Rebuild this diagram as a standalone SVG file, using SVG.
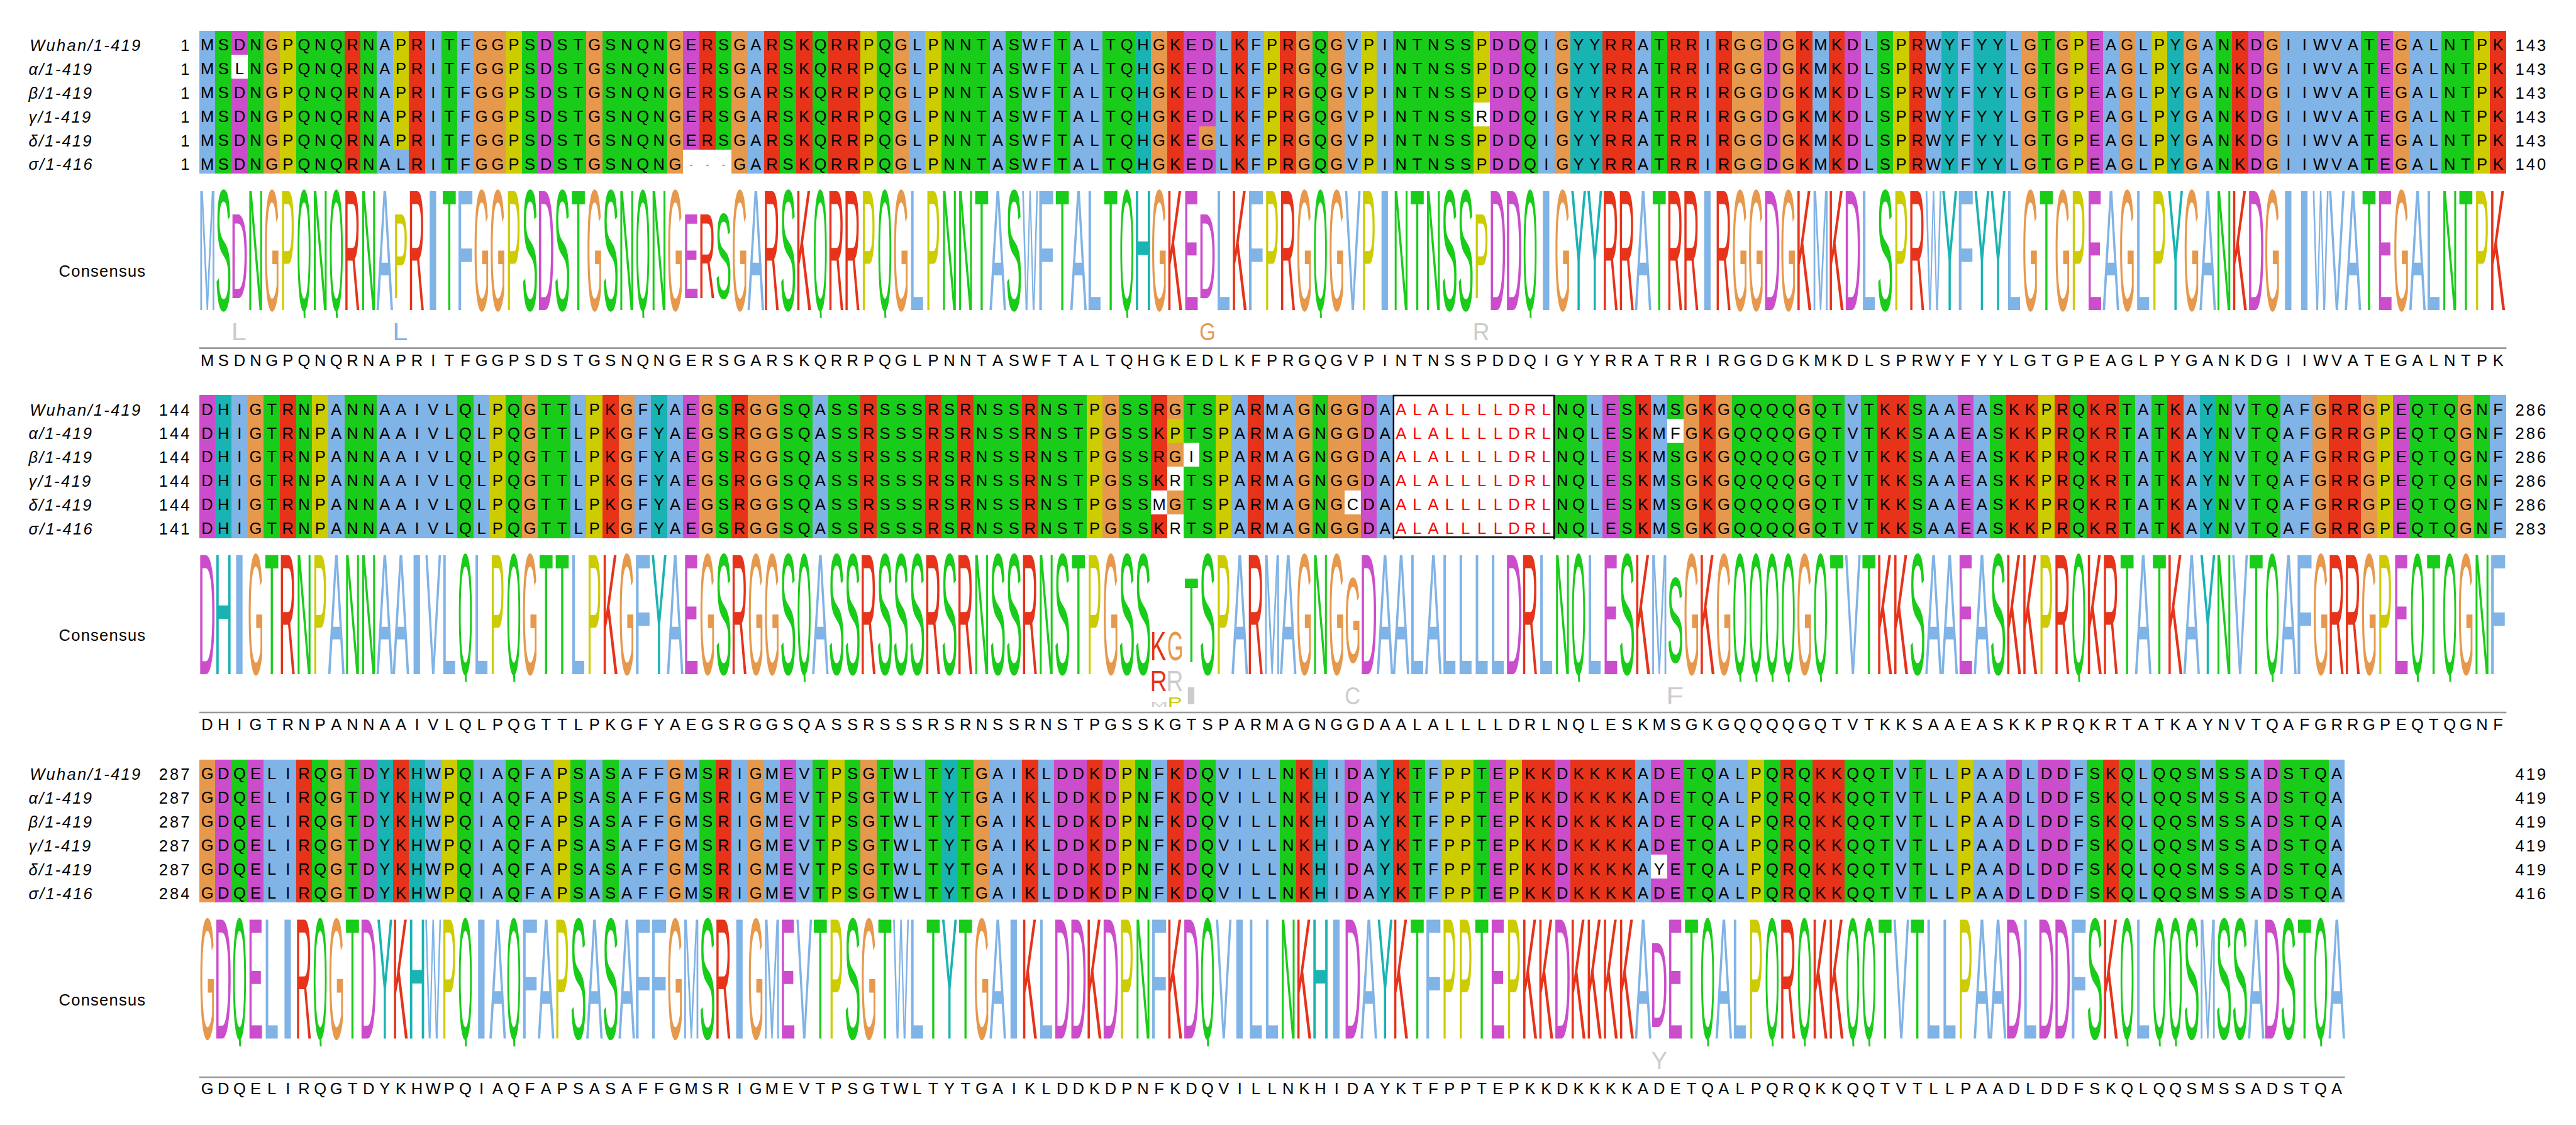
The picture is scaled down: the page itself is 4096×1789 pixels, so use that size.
<svg xmlns="http://www.w3.org/2000/svg" width="4096" height="1789" viewBox="0 0 4096 1789">
<style>
text{font-family:"Liberation Sans",Arial,sans-serif;fill:#000}
.l{font-size:100px}
.s{font-size:.995px;text-anchor:middle}
.d{font-size:.55px}
.la{font-size:27px;font-style:italic;letter-spacing:2.4px}
.nl{font-size:27px;letter-spacing:3.2px;text-anchor:end}
.nr{font-size:27px;letter-spacing:3.2px}
.cn{font-size:27px;letter-spacing:1.3px}
.bg{shape-rendering:crispEdges}
.bg path{fill:none;stroke-width:1}
.rd{fill:#f00}
text.b{fill:#80b3e6}text.r{fill:#e6331a}text.g{fill:#1acc1a}text.m{fill:#cc4dcc}text.o{fill:#e6994d}text.y{fill:#cc0}text.c{fill:#1ab3b3}text.x{fill:#ccc}
.bg .b{stroke:#80b3e6}.bg .r{stroke:#e6331a}.bg .g{stroke:#1acc1a}.bg .m{stroke:#cc4dcc}.bg .o{stroke:#e6994d}.bg .y{stroke:#cc0}.bg .c{stroke:#1ab3b3}.bg .w{stroke:#fff}
.rule{stroke:#999;stroke-width:2.8;fill:none}
.box{stroke:#000;stroke-width:2.6;fill:none}
</style>
<defs>
<clipPath id="qc"><rect x="-60" y="-90" width="120" height="94.5"/></clipPath>
<text id="A" class="l b" x="-33.3" transform="scale(.01547,2.907)">A</text>
<text id="D" class="l m" x="-37.5" transform="scale(.01499,2.907)">D</text>
<text id="E" class="l m" x="-35" transform="scale(.01433,2.907)">E</text>
<text id="F" class="l b" x="-32.5" transform="scale(.01766,2.907)">F</text>
<text id="G" class="l o" x="-38.5" transform="scale(.01285,2.907)">G</text>
<text id="H" class="l c" x="-36" transform="scale(.0158,2.907)">H</text>
<text id="I" class="l b" x="-14.2" transform="scale(.04268,2.907)">I</text>
<text id="K" class="l r" x="-37" transform="scale(.01499,2.907)">K</text>
<text id="L" class="l b" x="-30.5" transform="scale(.01683,2.907)">L</text>
<text id="M" class="l b" x="-41.5" transform="scale(.01301,2.907)">M</text>
<text id="N" class="l g" x="-36" transform="scale(.01423,2.907)">N</text>
<text id="P" class="l y" x="-35" transform="scale(.01365,2.907)">P</text>
<text id="Q" class="l g" x="-39" transform="scale(.01175,2.907)" clip-path="url(#qc)">Q</text>
<text id="R" class="l r" x="-38.5" transform="scale(.0145,2.907)">R</text>
<text id="S" class="l g" x="-33" transform="scale(.01487,2.907)">S</text>
<text id="T" class="l g" x="-30.5" transform="scale(.01423,2.907)">T</text>
<text id="V" class="l b" x="-33" transform="scale(.01474,2.907)">V</text>
<text id="W" class="l b" x="-47" transform="scale(.01042,2.907)">W</text>
<text id="Y" class="l c" x="-33" transform="scale(.01474,2.907)">Y</text>
<text id="gL" class="l x" x="-30.5" transform="scale(.01683,2.907)">L</text>
<text id="gR" class="l x" x="-38.5" transform="scale(.0145,2.907)">R</text>
<text id="gM" class="l x" x="-41.5" transform="scale(.01301,2.907)">M</text>
<text id="gI" class="l x" x="-14.2" transform="scale(.04268,2.907)">I</text>
<text id="gC" class="l x" x="-36.5" transform="scale(.01346,2.907)">C</text>
<text id="gF" class="l x" x="-32.5" transform="scale(.01766,2.907)">F</text>
<text id="gY" class="l x" x="-33" transform="scale(.01474,2.907)">Y</text>
</defs>
<rect width="4096" height="1789" fill="#fff"/>
<g transform="scale(.94552)">

<g id="block1">
<g class="bg" transform="translate(335,51.7) scale(27.13,40.1)">
<path class="b" d="M.5 0v6M11.5 0v6M14.5 0v6M16.5 0v6M34.5 0v6M44.5 0v6M49.5 0v6M51.5 0v6M52.5 0v6M54.5 0v6M55.5 0v6M63.5 0v6M65.5 0v6M71.5 0v6M73.5 0v6M83.5 0v6M89.5 0v6M93.5 0v6M100.5 0v6M103.5 0v6M107.5 0v6M109.5 0v6M112.5 0v6M118.5 0v6M120.5 0v6M124.5 0v6M129.5 0v6M130.5 0v6M131.5 0v6M132.5 0v6M133.5 0v6M137.5 0v6M138.5 0v6M12.5 5v1"/>
<path class="r" d="M9.5 0v6M13.5 0v6M31.5 0v6M35.5 0v6M37.5 0v6M39.5 0v6M40.5 0v6M60.5 0v6M64.5 0v6M67.5 0v6M87.5 0v6M88.5 0v6M91.5 0v6M92.5 0v6M94.5 0v6M99.5 0v6M101.5 0v6M106.5 0v6M126.5 0v6M142.5 0v6"/>
<path class="g" d="M1.5 0v6M3.5 0v6M6.5 0v6M7.5 0v6M8.5 0v6M10.5 0v6M15.5 0v6M20.5 0v6M22.5 0v6M23.5 0v6M25.5 0v6M26.5 0v6M27.5 0v6M28.5 0v6M32.5 0v6M36.5 0v6M38.5 0v6M42.5 0v6M46.5 0v6M47.5 0v6M48.5 0v6M50.5 0v6M53.5 0v6M56.5 0v6M57.5 0v6M69.5 0v6M74.5 0v6M75.5 0v6M76.5 0v6M77.5 0v6M78.5 0v6M82.5 0v6M90.5 0v6M104.5 0v6M114.5 0v6M125.5 0v6M134.5 0v6M139.5 0v6M140.5 0v6"/>
<path class="m" d="M2.5 0v6M21.5 0v6M30.5 0v6M61.5 0v6M62.5 0v6M80.5 0v6M81.5 0v6M97.5 0v6M102.5 0v6M117.5 0v6M127.5 0v6M135.5 0v6"/>
<path class="o" d="M4.5 0v6M17.5 0v6M18.5 0v6M24.5 0v6M29.5 0v6M33.5 0v6M43.5 0v6M59.5 0v6M68.5 0v6M70.5 0v6M84.5 0v6M95.5 0v6M96.5 0v6M98.5 0v6M113.5 0v6M115.5 0v6M119.5 0v6M123.5 0v6M128.5 0v6M136.5 0v6M62.5 4v1"/>
<path class="y" d="M5.5 0v6M12.5 0v5M19.5 0v6M41.5 0v6M45.5 0v6M66.5 0v6M72.5 0v6M79.5 0v6M105.5 0v6M116.5 0v6M121.5 0v6M141.5 0v6"/>
<path class="c" d="M58.5 0v6M85.5 0v6M86.5 0v6M108.5 0v6M110.5 0v6M111.5 0v6M122.5 0v6"/>
<path class="w" d="M2.5 1v1M30.5 5v1M31.5 5v1M32.5 5v1M79.5 3v1"/>
</g>
<g transform="translate(348.57,85) scale(27.13)">
<text class="s" x="0 1 2 3 4 5 6 7 8 9 10 11 12 13 14 15 16 17 18 19 20 21 22 23 24 25 26 27 28 29 30 31 32 33 34 35 36 37 38 39 40 41 42 43 44 45 46 47 48 49 50 51 52 53 54 55 56 57 58 59 60 61 62 63 64 65 66 67 68 69 70 71 72 73 74 75 76 77 78 79 80 81 82 83 84 85 86 87 88 89 90 91 92 93 94 95 96 97 98 99 100 101 102 103 104 105 106 107 108 109 110 111 112 113 114 115 116 117 118 119 120 121 122 123 124 125 126 127 128 129 130 131 132 133 134 135 136 137 138 139 140 141 142" y="0">MSDNGPQNQRNAPRITFGGPSDSTGSNQNGERSGARSKQRRPQGLPNNTASWFTALTQHGKEDLKFPRGQGVPINTNSSPDDQIGYYRRATRRIRGGDGKMKDLSPRWYFYYLGTGPEAGLPYGANKDGIIWVATEGALNTPK</text>
<text class="s" x="0 1 2 3 4 5 6 7 8 9 10 11 12 13 14 15 16 17 18 19 20 21 22 23 24 25 26 27 28 29 30 31 32 33 34 35 36 37 38 39 40 41 42 43 44 45 46 47 48 49 50 51 52 53 54 55 56 57 58 59 60 61 62 63 64 65 66 67 68 69 70 71 72 73 74 75 76 77 78 79 80 81 82 83 84 85 86 87 88 89 90 91 92 93 94 95 96 97 98 99 100 101 102 103 104 105 106 107 108 109 110 111 112 113 114 115 116 117 118 119 120 121 122 123 124 125 126 127 128 129 130 131 132 133 134 135 136 137 138 139 140 141 142" y="1.478">MSLNGPQNQRNAPRITFGGPSDSTGSNQNGERSGARSKQRRPQGLPNNTASWFTALTQHGKEDLKFPRGQGVPINTNSSPDDQIGYYRRATRRIRGGDGKMKDLSPRWYFYYLGTGPEAGLPYGANKDGIIWVATEGALNTPK</text>
<text class="s" x="0 1 2 3 4 5 6 7 8 9 10 11 12 13 14 15 16 17 18 19 20 21 22 23 24 25 26 27 28 29 30 31 32 33 34 35 36 37 38 39 40 41 42 43 44 45 46 47 48 49 50 51 52 53 54 55 56 57 58 59 60 61 62 63 64 65 66 67 68 69 70 71 72 73 74 75 76 77 78 79 80 81 82 83 84 85 86 87 88 89 90 91 92 93 94 95 96 97 98 99 100 101 102 103 104 105 106 107 108 109 110 111 112 113 114 115 116 117 118 119 120 121 122 123 124 125 126 127 128 129 130 131 132 133 134 135 136 137 138 139 140 141 142" y="2.956">MSDNGPQNQRNAPRITFGGPSDSTGSNQNGERSGARSKQRRPQGLPNNTASWFTALTQHGKEDLKFPRGQGVPINTNSSPDDQIGYYRRATRRIRGGDGKMKDLSPRWYFYYLGTGPEAGLPYGANKDGIIWVATEGALNTPK</text>
<text class="s" x="0 1 2 3 4 5 6 7 8 9 10 11 12 13 14 15 16 17 18 19 20 21 22 23 24 25 26 27 28 29 30 31 32 33 34 35 36 37 38 39 40 41 42 43 44 45 46 47 48 49 50 51 52 53 54 55 56 57 58 59 60 61 62 63 64 65 66 67 68 69 70 71 72 73 74 75 76 77 78 79 80 81 82 83 84 85 86 87 88 89 90 91 92 93 94 95 96 97 98 99 100 101 102 103 104 105 106 107 108 109 110 111 112 113 114 115 116 117 118 119 120 121 122 123 124 125 126 127 128 129 130 131 132 133 134 135 136 137 138 139 140 141 142" y="4.434">MSDNGPQNQRNAPRITFGGPSDSTGSNQNGERSGARSKQRRPQGLPNNTASWFTALTQHGKEDLKFPRGQGVPINTNSSRDDQIGYYRRATRRIRGGDGKMKDLSPRWYFYYLGTGPEAGLPYGANKDGIIWVATEGALNTPK</text>
<text class="s" x="0 1 2 3 4 5 6 7 8 9 10 11 12 13 14 15 16 17 18 19 20 21 22 23 24 25 26 27 28 29 30 31 32 33 34 35 36 37 38 39 40 41 42 43 44 45 46 47 48 49 50 51 52 53 54 55 56 57 58 59 60 61 62 63 64 65 66 67 68 69 70 71 72 73 74 75 76 77 78 79 80 81 82 83 84 85 86 87 88 89 90 91 92 93 94 95 96 97 98 99 100 101 102 103 104 105 106 107 108 109 110 111 112 113 114 115 116 117 118 119 120 121 122 123 124 125 126 127 128 129 130 131 132 133 134 135 136 137 138 139 140 141 142" y="5.912">MSDNGPQNQRNAPRITFGGPSDSTGSNQNGERSGARSKQRRPQGLPNNTASWFTALTQHGKEGLKFPRGQGVPINTNSSPDDQIGYYRRATRRIRGGDGKMKDLSPRWYFYYLGTGPEAGLPYGANKDGIIWVATEGALNTPK</text>
<text class="s" x="0 1 2 3 4 5 6 7 8 9 10 11 12 13 14 15 16 17 18 19 20 21 22 23 24 25 26 27 28 29 30 31 32 33 34 35 36 37 38 39 40 41 42 43 44 45 46 47 48 49 50 51 52 53 54 55 56 57 58 59 60 61 62 63 64 65 66 67 68 69 70 71 72 73 74 75 76 77 78 79 80 81 82 83 84 85 86 87 88 89 90 91 92 93 94 95 96 97 98 99 100 101 102 103 104 105 106 107 108 109 110 111 112 113 114 115 116 117 118 119 120 121 122 123 124 125 126 127 128 129 130 131 132 133 134 135 136 137 138 139 140 141 142" y="7.39">MSDNGPQNQRNALRITFGGPSDSTGSNQNG<tspan class="d" y="7.28">---</tspan><tspan y="7.39">GARSKQRRPQGLPNNTASWFTALTQHGKEDLKFPRGQGVPINTNSSPDDQIGYYRRATRRIRGGDGKMKDLSPRWYFYYLGTGPEAGLPYGANKDGIIWVATEGALNTPK</tspan></text>
<text class="s" x="0 1 2 3 4 5 6 7 8 9 10 11 12 13 14 15 16 17 18 19 20 21 22 23 24 25 26 27 28 29 30 31 32 33 34 35 36 37 38 39 40 41 42 43 44 45 46 47 48 49 50 51 52 53 54 55 56 57 58 59 60 61 62 63 64 65 66 67 68 69 70 71 72 73 74 75 76 77 78 79 80 81 82 83 84 85 86 87 88 89 90 91 92 93 94 95 96 97 98 99 100 101 102 103 104 105 106 107 108 109 110 111 112 113 114 115 116 117 118 119 120 121 122 123 124 125 126 127 128 129 130 131 132 133 134 135 136 137 138 139 140 141 142" y="19.54">MSDNGPQNQRNAPRITFGGPSDSTGSNQNGERSGARSKQRRPQGLPNNTASWFTALTQHGKEDLKFPRGQGVPINTNSSPDDQIGYYRRATRRIRGGDGKMKDLSPRWYFYYLGTGPEAGLPYGANKDGIIWVATEGALNTPK</text>
</g>
<g transform="translate(348.57,521.5) scale(27.13,1)">
<use href="#M" x="0"/><use href="#S" x="1"/><use href="#D" transform="translate(2,-20) scale(1,.7)"/><use href="#gL" transform="translate(2,50.5) scale(1,.14)"/><use href="#N" x="3"/><use href="#G" x="4"/><use href="#P" x="5"/><use href="#Q" x="6"/><use href="#N" x="7"/><use href="#Q" x="8"/><use href="#R" x="9"/><use href="#N" x="10"/><use href="#A" x="11"/><use href="#P" transform="translate(12,-20) scale(1,.7)"/><use href="#L" transform="translate(12,50.5) scale(1,.14)"/><use href="#R" x="13"/><use href="#I" x="14"/><use href="#T" x="15"/><use href="#F" x="16"/><use href="#G" x="17"/><use href="#G" x="18"/><use href="#P" x="19"/><use href="#S" x="20"/><use href="#D" x="21"/><use href="#S" x="22"/><use href="#T" x="23"/><use href="#G" x="24"/><use href="#S" x="25"/><use href="#N" x="26"/><use href="#Q" x="27"/><use href="#N" x="28"/><use href="#G" x="29"/><use href="#E" transform="translate(30,-20) scale(1,.7)"/><use href="#R" transform="translate(31,-20) scale(1,.7)"/><use href="#S" transform="translate(32,-20) scale(1,.7)"/><use href="#G" x="33"/><use href="#A" x="34"/><use href="#R" x="35"/><use href="#S" x="36"/><use href="#K" x="37"/><use href="#Q" x="38"/><use href="#R" x="39"/><use href="#R" x="40"/><use href="#P" x="41"/><use href="#Q" x="42"/><use href="#G" x="43"/><use href="#L" x="44"/><use href="#P" x="45"/><use href="#N" x="46"/><use href="#N" x="47"/><use href="#T" x="48"/><use href="#A" x="49"/><use href="#S" x="50"/><use href="#W" x="51"/><use href="#F" x="52"/><use href="#T" x="53"/><use href="#A" x="54"/><use href="#L" x="55"/><use href="#T" x="56"/><use href="#Q" x="57"/><use href="#H" x="58"/><use href="#G" x="59"/><use href="#K" x="60"/><use href="#E" x="61"/><use href="#D" transform="translate(62,-20) scale(1,.7)"/><use href="#G" transform="translate(62,50.5) scale(1,.14)"/><use href="#L" x="63"/><use href="#K" x="64"/><use href="#F" x="65"/><use href="#P" x="66"/><use href="#R" x="67"/><use href="#G" x="68"/><use href="#Q" x="69"/><use href="#G" x="70"/><use href="#V" x="71"/><use href="#P" x="72"/><use href="#I" x="73"/><use href="#N" x="74"/><use href="#T" x="75"/><use href="#N" x="76"/><use href="#S" x="77"/><use href="#S" x="78"/><use href="#P" transform="translate(79,-20) scale(1,.7)"/><use href="#gR" transform="translate(79,50.5) scale(1,.14)"/><use href="#D" x="80"/><use href="#D" x="81"/><use href="#Q" x="82"/><use href="#I" x="83"/><use href="#G" x="84"/><use href="#Y" x="85"/><use href="#Y" x="86"/><use href="#R" x="87"/><use href="#R" x="88"/><use href="#A" x="89"/><use href="#T" x="90"/><use href="#R" x="91"/><use href="#R" x="92"/><use href="#I" x="93"/><use href="#R" x="94"/><use href="#G" x="95"/><use href="#G" x="96"/><use href="#D" x="97"/><use href="#G" x="98"/><use href="#K" x="99"/><use href="#M" x="100"/><use href="#K" x="101"/><use href="#D" x="102"/><use href="#L" x="103"/><use href="#S" x="104"/><use href="#P" x="105"/><use href="#R" x="106"/><use href="#W" x="107"/><use href="#Y" x="108"/><use href="#F" x="109"/><use href="#Y" x="110"/><use href="#Y" x="111"/><use href="#L" x="112"/><use href="#G" x="113"/><use href="#T" x="114"/><use href="#G" x="115"/><use href="#P" x="116"/><use href="#E" x="117"/><use href="#A" x="118"/><use href="#G" x="119"/><use href="#L" x="120"/><use href="#P" x="121"/><use href="#Y" x="122"/><use href="#G" x="123"/><use href="#A" x="124"/><use href="#N" x="125"/><use href="#K" x="126"/><use href="#D" x="127"/><use href="#G" x="128"/><use href="#I" x="129"/><use href="#I" x="130"/><use href="#W" x="131"/><use href="#V" x="132"/><use href="#A" x="133"/><use href="#T" x="134"/><use href="#E" x="135"/><use href="#G" x="136"/><use href="#A" x="137"/><use href="#L" x="138"/><use href="#N" x="139"/><use href="#T" x="140"/><use href="#P" x="141"/><use href="#K" x="142"/>
</g>
<path class="rule" d="M335 585.5H4215"/>
<text class="la" x="50" y="86">Wuhan/1-419</text><text class="la" x="48" y="126">α/1-419</text><text class="la" x="48" y="166">β/1-419</text><text class="la" x="48" y="206">γ/1-419</text><text class="la" x="48" y="246">δ/1-419</text><text class="la" x="48" y="286">σ/1-416</text>
<text class="nl" x="322" y="86">1</text><text class="nl" x="322" y="126">1</text><text class="nl" x="322" y="166">1</text><text class="nl" x="322" y="206">1</text><text class="nl" x="322" y="246">1</text><text class="nl" x="322" y="286">1</text>
<text class="nr" x="4230" y="86">143</text><text class="nr" x="4230" y="126">143</text><text class="nr" x="4230" y="166">143</text><text class="nr" x="4230" y="206">143</text><text class="nr" x="4230" y="246">143</text><text class="nr" x="4230" y="286">140</text>
<text class="cn" x="99" y="465.5">Consensus</text>
</g>

<g id="block2">
<g class="bg" transform="translate(335,664.3) scale(27.13,40.1)">
<path class="b" d="M2.5 0v6M8.5 0v6M11.5 0v6M12.5 0v6M13.5 0v6M14.5 0v6M15.5 0v6M17.5 0v6M23.5 0v6M27.5 0v6M29.5 0v6M38.5 0v6M64.5 0v6M66.5 0v6M67.5 0v6M73.5 0v6M86.5 0v6M90.5 0v6M102.5 0v6M107.5 0v6M108.5 0v6M110.5 0v6M120.5 0v6M123.5 0v6M126.5 0v6M129.5 0v6M130.5 0v6M142.5 0v6"/>
<path class="r" d="M5.5 0v6M25.5 0v6M33.5 0v6M41.5 0v6M45.5 0v6M47.5 0v6M51.5 0v6M59.5 0v6M65.5 0v6M89.5 0v6M93.5 0v6M104.5 0v6M105.5 0v6M112.5 0v6M113.5 0v6M115.5 0v6M117.5 0v6M118.5 0v6M122.5 0v6M132.5 0v6M133.5 0v6"/>
<path class="g" d="M4.5 0v6M6.5 0v6M9.5 0v6M10.5 0v6M16.5 0v6M19.5 0v6M21.5 0v6M22.5 0v6M32.5 0v6M36.5 0v6M37.5 0v6M39.5 0v6M40.5 0v6M42.5 0v6M43.5 0v6M44.5 0v6M46.5 0v6M48.5 0v6M49.5 0v6M50.5 0v6M52.5 0v6M53.5 0v6M54.5 0v6M57.5 0v6M58.5 0v6M61.5 0v6M62.5 0v6M69.5 0v6M84.5 0v6M85.5 0v6M88.5 0v6M91.5 0v6M95.5 0v6M96.5 0v6M97.5 0v6M98.5 0v6M100.5 0v6M101.5 0v6M103.5 0v6M106.5 0v6M111.5 0v6M116.5 0v6M119.5 0v6M121.5 0v6M125.5 0v6M127.5 0v6M128.5 0v6M137.5 0v6M138.5 0v6M139.5 0v6M141.5 0v6"/>
<path class="m" d="M.5 0v6M30.5 0v6M72.5 0v6M87.5 0v6M109.5 0v6M136.5 0v6"/>
<path class="o" d="M3.5 0v6M20.5 0v6M26.5 0v6M31.5 0v6M34.5 0v6M35.5 0v6M56.5 0v6M60.5 0v6M68.5 0v6M70.5 0v6M71.5 0v6M92.5 0v6M94.5 0v6M99.5 0v6M131.5 0v6M134.5 0v6M140.5 0v6"/>
<path class="y" d="M7.5 0v6M18.5 0v6M24.5 0v6M55.5 0v6M63.5 0v6M114.5 0v6M135.5 0v6M60.5 1v1"/>
<path class="c" d="M1.5 0v6M28.5 0v6M124.5 0v6"/>
<path class="w" d="M59.5 4v1M60.5 3v1M60.5 5v1M61.5 2v1M71.5 4v1M91.5 1v1"/>
</g>
<rect x="2343" y="664.3" width="270.6" height="240.6" fill="#fff"/>
<path class="box" d="M2343.5 664V907M2613.5 664V907M2342.2 665.2H2614.8M2342.2 903.5H2614.8"/>
<g transform="translate(348.57,697.6) scale(27.13)">
<text class="s" x="0 1 2 3 4 5 6 7 8 9 10 11 12 13 14 15 16 17 18 19 20 21 22 23 24 25 26 27 28 29 30 31 32 33 34 35 36 37 38 39 40 41 42 43 44 45 46 47 48 49 50 51 52 53 54 55 56 57 58 59 60 61 62 63 64 65 66 67 68 69 70 71 72 73 74 75 76 77 78 79 80 81 82 83 84 85 86 87 88 89 90 91 92 93 94 95 96 97 98 99 100 101 102 103 104 105 106 107 108 109 110 111 112 113 114 115 116 117 118 119 120 121 122 123 124 125 126 127 128 129 130 131 132 133 134 135 136 137 138 139 140 141 142" y="0">DHIGTRNPANNAAIVLQLPQGTTLPKGFYAEGSRGGSQASSRSSSRSRNSSRNSTPGSSRGTSPARMAGNGGDA<tspan class="rd">ALALLLLDRL</tspan>NQLESKMSGKGQQQQGQTVTKKSAAEASKKPRQKRTATKAYNVTQAFGRRGPEQTQGNF</text>
<text class="s" x="0 1 2 3 4 5 6 7 8 9 10 11 12 13 14 15 16 17 18 19 20 21 22 23 24 25 26 27 28 29 30 31 32 33 34 35 36 37 38 39 40 41 42 43 44 45 46 47 48 49 50 51 52 53 54 55 56 57 58 59 60 61 62 63 64 65 66 67 68 69 70 71 72 73 74 75 76 77 78 79 80 81 82 83 84 85 86 87 88 89 90 91 92 93 94 95 96 97 98 99 100 101 102 103 104 105 106 107 108 109 110 111 112 113 114 115 116 117 118 119 120 121 122 123 124 125 126 127 128 129 130 131 132 133 134 135 136 137 138 139 140 141 142" y="1.478">DHIGTRNPANNAAIVLQLPQGTTLPKGFYAEGSRGGSQASSRSSSRSRNSSRNSTPGSSKPTSPARMAGNGGDA<tspan class="rd">ALALLLLDRL</tspan>NQLESKMFGKGQQQQGQTVTKKSAAEASKKPRQKRTATKAYNVTQAFGRRGPEQTQGNF</text>
<text class="s" x="0 1 2 3 4 5 6 7 8 9 10 11 12 13 14 15 16 17 18 19 20 21 22 23 24 25 26 27 28 29 30 31 32 33 34 35 36 37 38 39 40 41 42 43 44 45 46 47 48 49 50 51 52 53 54 55 56 57 58 59 60 61 62 63 64 65 66 67 68 69 70 71 72 73 74 75 76 77 78 79 80 81 82 83 84 85 86 87 88 89 90 91 92 93 94 95 96 97 98 99 100 101 102 103 104 105 106 107 108 109 110 111 112 113 114 115 116 117 118 119 120 121 122 123 124 125 126 127 128 129 130 131 132 133 134 135 136 137 138 139 140 141 142" y="2.956">DHIGTRNPANNAAIVLQLPQGTTLPKGFYAEGSRGGSQASSRSSSRSRNSSRNSTPGSSRGISPARMAGNGGDA<tspan class="rd">ALALLLLDRL</tspan>NQLESKMSGKGQQQQGQTVTKKSAAEASKKPRQKRTATKAYNVTQAFGRRGPEQTQGNF</text>
<text class="s" x="0 1 2 3 4 5 6 7 8 9 10 11 12 13 14 15 16 17 18 19 20 21 22 23 24 25 26 27 28 29 30 31 32 33 34 35 36 37 38 39 40 41 42 43 44 45 46 47 48 49 50 51 52 53 54 55 56 57 58 59 60 61 62 63 64 65 66 67 68 69 70 71 72 73 74 75 76 77 78 79 80 81 82 83 84 85 86 87 88 89 90 91 92 93 94 95 96 97 98 99 100 101 102 103 104 105 106 107 108 109 110 111 112 113 114 115 116 117 118 119 120 121 122 123 124 125 126 127 128 129 130 131 132 133 134 135 136 137 138 139 140 141 142" y="4.434">DHIGTRNPANNAAIVLQLPQGTTLPKGFYAEGSRGGSQASSRSSSRSRNSSRNSTPGSSKRTSPARMAGNGGDA<tspan class="rd">ALALLLLDRL</tspan>NQLESKMSGKGQQQQGQTVTKKSAAEASKKPRQKRTATKAYNVTQAFGRRGPEQTQGNF</text>
<text class="s" x="0 1 2 3 4 5 6 7 8 9 10 11 12 13 14 15 16 17 18 19 20 21 22 23 24 25 26 27 28 29 30 31 32 33 34 35 36 37 38 39 40 41 42 43 44 45 46 47 48 49 50 51 52 53 54 55 56 57 58 59 60 61 62 63 64 65 66 67 68 69 70 71 72 73 74 75 76 77 78 79 80 81 82 83 84 85 86 87 88 89 90 91 92 93 94 95 96 97 98 99 100 101 102 103 104 105 106 107 108 109 110 111 112 113 114 115 116 117 118 119 120 121 122 123 124 125 126 127 128 129 130 131 132 133 134 135 136 137 138 139 140 141 142" y="5.912">DHIGTRNPANNAAIVLQLPQGTTLPKGFYAEGSRGGSQASSRSSSRSRNSSRNSTPGSSMGTSPARMAGNGCDA<tspan class="rd">ALALLLLDRL</tspan>NQLESKMSGKGQQQQGQTVTKKSAAEASKKPRQKRTATKAYNVTQAFGRRGPEQTQGNF</text>
<text class="s" x="0 1 2 3 4 5 6 7 8 9 10 11 12 13 14 15 16 17 18 19 20 21 22 23 24 25 26 27 28 29 30 31 32 33 34 35 36 37 38 39 40 41 42 43 44 45 46 47 48 49 50 51 52 53 54 55 56 57 58 59 60 61 62 63 64 65 66 67 68 69 70 71 72 73 74 75 76 77 78 79 80 81 82 83 84 85 86 87 88 89 90 91 92 93 94 95 96 97 98 99 100 101 102 103 104 105 106 107 108 109 110 111 112 113 114 115 116 117 118 119 120 121 122 123 124 125 126 127 128 129 130 131 132 133 134 135 136 137 138 139 140 141 142" y="7.39">DHIGTRNPANNAAIVLQLPQGTTLPKGFYAEGSRGGSQASSRSSSRSRNSSRNSTPGSSKRTSPARMAGNGGDA<tspan class="rd">ALALLLLDRL</tspan>NQLESKMSGKGQQQQGQTVTKKSAAEASKKPRQKRTATKAYNVTQAFGRRGPEQTQGNF</text>
<text class="s" x="0 1 2 3 4 5 6 7 8 9 10 11 12 13 14 15 16 17 18 19 20 21 22 23 24 25 26 27 28 29 30 31 32 33 34 35 36 37 38 39 40 41 42 43 44 45 46 47 48 49 50 51 52 53 54 55 56 57 58 59 60 61 62 63 64 65 66 67 68 69 70 71 72 73 74 75 76 77 78 79 80 81 82 83 84 85 86 87 88 89 90 91 92 93 94 95 96 97 98 99 100 101 102 103 104 105 106 107 108 109 110 111 112 113 114 115 116 117 118 119 120 121 122 123 124 125 126 127 128 129 130 131 132 133 134 135 136 137 138 139 140 141 142" y="19.54">DHIGTRNPANNAAIVLQLPQGTTLPKGFYAEGSRGGSQASSRSSSRSRNSSRNSTPGSSKGTSPARMAGNGGDAALALLLLDRLNQLESKMSGKGQQQQGQTVTKKSAAEASKKPRQKRTATKAYNVTQAFGRRGPEQTQGNF</text>
</g>
<g transform="translate(348.57,1133.7) scale(27.13,1)">
<use href="#D" x="0"/><use href="#H" x="1"/><use href="#I" x="2"/><use href="#G" x="3"/><use href="#T" x="4"/><use href="#R" x="5"/><use href="#N" x="6"/><use href="#P" x="7"/><use href="#A" x="8"/><use href="#N" x="9"/><use href="#N" x="10"/><use href="#A" x="11"/><use href="#A" x="12"/><use href="#I" x="13"/><use href="#V" x="14"/><use href="#L" x="15"/><use href="#Q" x="16"/><use href="#L" x="17"/><use href="#P" x="18"/><use href="#Q" x="19"/><use href="#G" x="20"/><use href="#T" x="21"/><use href="#T" x="22"/><use href="#L" x="23"/><use href="#P" x="24"/><use href="#K" x="25"/><use href="#G" x="26"/><use href="#F" x="27"/><use href="#Y" x="28"/><use href="#A" x="29"/><use href="#E" x="30"/><use href="#G" x="31"/><use href="#S" x="32"/><use href="#R" x="33"/><use href="#G" x="34"/><use href="#G" x="35"/><use href="#S" x="36"/><use href="#Q" x="37"/><use href="#A" x="38"/><use href="#S" x="39"/><use href="#S" x="40"/><use href="#R" x="41"/><use href="#S" x="42"/><use href="#S" x="43"/><use href="#S" x="44"/><use href="#R" x="45"/><use href="#S" x="46"/><use href="#R" x="47"/><use href="#N" x="48"/><use href="#S" x="49"/><use href="#S" x="50"/><use href="#R" x="51"/><use href="#N" x="52"/><use href="#S" x="53"/><use href="#T" x="54"/><use href="#P" x="55"/><use href="#G" x="56"/><use href="#S" x="57"/><use href="#S" x="58"/><use href="#K" transform="translate(59,-23) scale(1,.235)"/><use href="#R" transform="translate(59,28.4) scale(1,.167)"/><use href="#gM" transform="translate(59,55) scale(1,.037)"/><use href="#G" transform="translate(60,-23) scale(1,.235)"/><use href="#gR" transform="translate(60,28.4) scale(1,.167)"/><use href="#P" transform="translate(60,55) scale(1,.083)"/><use href="#T" transform="translate(61,-20) scale(1,.7)"/><use href="#gI" transform="translate(61,51) scale(1,.14)"/><use href="#S" x="62"/><use href="#P" x="63"/><use href="#A" x="64"/><use href="#R" x="65"/><use href="#M" x="66"/><use href="#A" x="67"/><use href="#G" x="68"/><use href="#N" x="69"/><use href="#G" x="70"/><use href="#G" transform="translate(71,-20) scale(1,.7)"/><use href="#gC" transform="translate(71,51) scale(1,.14)"/><use href="#D" x="72"/><use href="#A" x="73"/><use href="#A" x="74"/><use href="#L" x="75"/><use href="#A" x="76"/><use href="#L" x="77"/><use href="#L" x="78"/><use href="#L" x="79"/><use href="#L" x="80"/><use href="#D" x="81"/><use href="#R" x="82"/><use href="#L" x="83"/><use href="#N" x="84"/><use href="#Q" x="85"/><use href="#L" x="86"/><use href="#E" x="87"/><use href="#S" x="88"/><use href="#K" x="89"/><use href="#M" x="90"/><use href="#S" transform="translate(91,-20) scale(1,.7)"/><use href="#gF" transform="translate(91,51) scale(1,.14)"/><use href="#G" x="92"/><use href="#K" x="93"/><use href="#G" x="94"/><use href="#Q" x="95"/><use href="#Q" x="96"/><use href="#Q" x="97"/><use href="#Q" x="98"/><use href="#G" x="99"/><use href="#Q" x="100"/><use href="#T" x="101"/><use href="#V" x="102"/><use href="#T" x="103"/><use href="#K" x="104"/><use href="#K" x="105"/><use href="#S" x="106"/><use href="#A" x="107"/><use href="#A" x="108"/><use href="#E" x="109"/><use href="#A" x="110"/><use href="#S" x="111"/><use href="#K" x="112"/><use href="#K" x="113"/><use href="#P" x="114"/><use href="#R" x="115"/><use href="#Q" x="116"/><use href="#K" x="117"/><use href="#R" x="118"/><use href="#T" x="119"/><use href="#A" x="120"/><use href="#T" x="121"/><use href="#K" x="122"/><use href="#A" x="123"/><use href="#Y" x="124"/><use href="#N" x="125"/><use href="#V" x="126"/><use href="#T" x="127"/><use href="#Q" x="128"/><use href="#A" x="129"/><use href="#F" x="130"/><use href="#G" x="131"/><use href="#R" x="132"/><use href="#R" x="133"/><use href="#G" x="134"/><use href="#P" x="135"/><use href="#E" x="136"/><use href="#Q" x="137"/><use href="#T" x="138"/><use href="#Q" x="139"/><use href="#G" x="140"/><use href="#N" x="141"/><use href="#F" x="142"/>
</g>
<path class="rule" d="M335 1198.3H4215"/>
<text class="la" x="50" y="698.6">Wuhan/1-419</text><text class="la" x="48" y="738.7">α/1-419</text><text class="la" x="48" y="778.8">β/1-419</text><text class="la" x="48" y="818.9">γ/1-419</text><text class="la" x="48" y="859">δ/1-419</text><text class="la" x="48" y="899.1">σ/1-416</text>
<text class="nl" x="322" y="698.6">144</text><text class="nl" x="322" y="738.7">144</text><text class="nl" x="322" y="778.8">144</text><text class="nl" x="322" y="818.9">144</text><text class="nl" x="322" y="859">144</text><text class="nl" x="322" y="899.1">141</text>
<text class="nr" x="4230" y="698.6">286</text><text class="nr" x="4230" y="738.7">286</text><text class="nr" x="4230" y="778.8">286</text><text class="nr" x="4230" y="818.9">286</text><text class="nr" x="4230" y="859">286</text><text class="nr" x="4230" y="899.1">283</text>
<text class="cn" x="99" y="1078">Consensus</text>
</g>

<g id="block3">
<g class="bg" transform="translate(335,1277.3) scale(27.13,40.1)">
<path class="b" d="M4.5 0v6M5.5 0v6M14.5 0v6M17.5 0v6M18.5 0v6M20.5 0v6M21.5 0v6M24.5 0v6M26.5 0v6M27.5 0v6M28.5 0v6M30.5 0v6M33.5 0v6M35.5 0v6M37.5 0v6M43.5 0v6M44.5 0v6M49.5 0v6M50.5 0v6M52.5 0v6M59.5 0v6M63.5 0v6M64.5 0v6M65.5 0v6M66.5 0v6M70.5 0v6M72.5 0v6M76.5 0v6M89.5 0v6M94.5 0v6M95.5 0v6M105.5 0v6M107.5 0v6M108.5 0v6M110.5 0v6M111.5 0v6M113.5 0v6M116.5 0v6M120.5 0v6M124.5 0v6M127.5 0v6M132.5 0v6"/>
<path class="r" d="M6.5 0v6M12.5 0v6M32.5 0v6M51.5 0v6M55.5 0v6M60.5 0v6M68.5 0v6M74.5 0v6M82.5 0v6M83.5 0v6M85.5 0v6M86.5 0v6M87.5 0v6M88.5 0v6M98.5 0v6M100.5 0v6M101.5 0v6M118.5 0v6"/>
<path class="g" d="M2.5 0v6M7.5 0v6M9.5 0v6M16.5 0v6M19.5 0v6M23.5 0v6M25.5 0v6M31.5 0v6M38.5 0v6M40.5 0v6M42.5 0v6M45.5 0v6M47.5 0v6M58.5 0v6M62.5 0v6M67.5 0v6M75.5 0v6M79.5 0v6M92.5 0v6M93.5 0v6M97.5 0v6M99.5 0v6M102.5 0v6M103.5 0v6M104.5 0v6M106.5 0v6M117.5 0v6M119.5 0v6M121.5 0v6M122.5 0v6M123.5 0v6M125.5 0v6M126.5 0v6M129.5 0v6M130.5 0v6M131.5 0v6"/>
<path class="m" d="M1.5 0v6M3.5 0v6M10.5 0v6M36.5 0v6M53.5 0v6M54.5 0v6M56.5 0v6M61.5 0v6M71.5 0v6M80.5 0v6M84.5 0v6M90.5 0v6M91.5 0v6M112.5 0v6M114.5 0v6M115.5 0v6M128.5 0v6"/>
<path class="o" d="M.5 0v6M8.5 0v6M29.5 0v6M34.5 0v6M41.5 0v6M48.5 0v6"/>
<path class="y" d="M15.5 0v6M22.5 0v6M39.5 0v6M57.5 0v6M77.5 0v6M78.5 0v6M81.5 0v6M96.5 0v6M109.5 0v6"/>
<path class="c" d="M11.5 0v6M13.5 0v6M46.5 0v6M69.5 0v6M73.5 0v6"/>
<path class="w" d="M90.5 4v1"/>
</g>
<g transform="translate(348.57,1310.6) scale(27.13)">
<text class="s" x="0 1 2 3 4 5 6 7 8 9 10 11 12 13 14 15 16 17 18 19 20 21 22 23 24 25 26 27 28 29 30 31 32 33 34 35 36 37 38 39 40 41 42 43 44 45 46 47 48 49 50 51 52 53 54 55 56 57 58 59 60 61 62 63 64 65 66 67 68 69 70 71 72 73 74 75 76 77 78 79 80 81 82 83 84 85 86 87 88 89 90 91 92 93 94 95 96 97 98 99 100 101 102 103 104 105 106 107 108 109 110 111 112 113 114 115 116 117 118 119 120 121 122 123 124 125 126 127 128 129 130 131 132" y="0">GDQELIRQGTDYKHWPQIAQFAPSASAFFGMSRIGMEVTPSGTWLTYTGAIKLDDKDPNFKDQVILLNKHIDAYKTFPPTEPKKDKKKKADETQALPQRQKKQQTVTLLPAADLDDFSKQLQQSMSSADSTQA</text>
<text class="s" x="0 1 2 3 4 5 6 7 8 9 10 11 12 13 14 15 16 17 18 19 20 21 22 23 24 25 26 27 28 29 30 31 32 33 34 35 36 37 38 39 40 41 42 43 44 45 46 47 48 49 50 51 52 53 54 55 56 57 58 59 60 61 62 63 64 65 66 67 68 69 70 71 72 73 74 75 76 77 78 79 80 81 82 83 84 85 86 87 88 89 90 91 92 93 94 95 96 97 98 99 100 101 102 103 104 105 106 107 108 109 110 111 112 113 114 115 116 117 118 119 120 121 122 123 124 125 126 127 128 129 130 131 132" y="1.478">GDQELIRQGTDYKHWPQIAQFAPSASAFFGMSRIGMEVTPSGTWLTYTGAIKLDDKDPNFKDQVILLNKHIDAYKTFPPTEPKKDKKKKADETQALPQRQKKQQTVTLLPAADLDDFSKQLQQSMSSADSTQA</text>
<text class="s" x="0 1 2 3 4 5 6 7 8 9 10 11 12 13 14 15 16 17 18 19 20 21 22 23 24 25 26 27 28 29 30 31 32 33 34 35 36 37 38 39 40 41 42 43 44 45 46 47 48 49 50 51 52 53 54 55 56 57 58 59 60 61 62 63 64 65 66 67 68 69 70 71 72 73 74 75 76 77 78 79 80 81 82 83 84 85 86 87 88 89 90 91 92 93 94 95 96 97 98 99 100 101 102 103 104 105 106 107 108 109 110 111 112 113 114 115 116 117 118 119 120 121 122 123 124 125 126 127 128 129 130 131 132" y="2.956">GDQELIRQGTDYKHWPQIAQFAPSASAFFGMSRIGMEVTPSGTWLTYTGAIKLDDKDPNFKDQVILLNKHIDAYKTFPPTEPKKDKKKKADETQALPQRQKKQQTVTLLPAADLDDFSKQLQQSMSSADSTQA</text>
<text class="s" x="0 1 2 3 4 5 6 7 8 9 10 11 12 13 14 15 16 17 18 19 20 21 22 23 24 25 26 27 28 29 30 31 32 33 34 35 36 37 38 39 40 41 42 43 44 45 46 47 48 49 50 51 52 53 54 55 56 57 58 59 60 61 62 63 64 65 66 67 68 69 70 71 72 73 74 75 76 77 78 79 80 81 82 83 84 85 86 87 88 89 90 91 92 93 94 95 96 97 98 99 100 101 102 103 104 105 106 107 108 109 110 111 112 113 114 115 116 117 118 119 120 121 122 123 124 125 126 127 128 129 130 131 132" y="4.434">GDQELIRQGTDYKHWPQIAQFAPSASAFFGMSRIGMEVTPSGTWLTYTGAIKLDDKDPNFKDQVILLNKHIDAYKTFPPTEPKKDKKKKADETQALPQRQKKQQTVTLLPAADLDDFSKQLQQSMSSADSTQA</text>
<text class="s" x="0 1 2 3 4 5 6 7 8 9 10 11 12 13 14 15 16 17 18 19 20 21 22 23 24 25 26 27 28 29 30 31 32 33 34 35 36 37 38 39 40 41 42 43 44 45 46 47 48 49 50 51 52 53 54 55 56 57 58 59 60 61 62 63 64 65 66 67 68 69 70 71 72 73 74 75 76 77 78 79 80 81 82 83 84 85 86 87 88 89 90 91 92 93 94 95 96 97 98 99 100 101 102 103 104 105 106 107 108 109 110 111 112 113 114 115 116 117 118 119 120 121 122 123 124 125 126 127 128 129 130 131 132" y="5.912">GDQELIRQGTDYKHWPQIAQFAPSASAFFGMSRIGMEVTPSGTWLTYTGAIKLDDKDPNFKDQVILLNKHIDAYKTFPPTEPKKDKKKKAYETQALPQRQKKQQTVTLLPAADLDDFSKQLQQSMSSADSTQA</text>
<text class="s" x="0 1 2 3 4 5 6 7 8 9 10 11 12 13 14 15 16 17 18 19 20 21 22 23 24 25 26 27 28 29 30 31 32 33 34 35 36 37 38 39 40 41 42 43 44 45 46 47 48 49 50 51 52 53 54 55 56 57 58 59 60 61 62 63 64 65 66 67 68 69 70 71 72 73 74 75 76 77 78 79 80 81 82 83 84 85 86 87 88 89 90 91 92 93 94 95 96 97 98 99 100 101 102 103 104 105 106 107 108 109 110 111 112 113 114 115 116 117 118 119 120 121 122 123 124 125 126 127 128 129 130 131 132" y="7.39">GDQELIRQGTDYKHWPQIAQFAPSASAFFGMSRIGMEVTPSGTWLTYTGAIKLDDKDPNFKDQVILLNKHIDAYKTFPPTEPKKDKKKKADETQALPQRQKKQQTVTLLPAADLDDFSKQLQQSMSSADSTQA</text>
<text class="s" x="0 1 2 3 4 5 6 7 8 9 10 11 12 13 14 15 16 17 18 19 20 21 22 23 24 25 26 27 28 29 30 31 32 33 34 35 36 37 38 39 40 41 42 43 44 45 46 47 48 49 50 51 52 53 54 55 56 57 58 59 60 61 62 63 64 65 66 67 68 69 70 71 72 73 74 75 76 77 78 79 80 81 82 83 84 85 86 87 88 89 90 91 92 93 94 95 96 97 98 99 100 101 102 103 104 105 106 107 108 109 110 111 112 113 114 115 116 117 118 119 120 121 122 123 124 125 126 127 128 129 130 131 132" y="19.54">GDQELIRQGTDYKHWPQIAQFAPSASAFFGMSRIGMEVTPSGTWLTYTGAIKLDDKDPNFKDQVILLNKHIDAYKTFPPTEPKKDKKKKADETQALPQRQKKQQTVTLLPAADLDDFSKQLQQSMSSADSTQA</text>
</g>
<g transform="translate(348.57,1746.7) scale(27.13,1)">
<use href="#G" x="0"/><use href="#D" x="1"/><use href="#Q" x="2"/><use href="#E" x="3"/><use href="#L" x="4"/><use href="#I" x="5"/><use href="#R" x="6"/><use href="#Q" x="7"/><use href="#G" x="8"/><use href="#T" x="9"/><use href="#D" x="10"/><use href="#Y" x="11"/><use href="#K" x="12"/><use href="#H" x="13"/><use href="#W" x="14"/><use href="#P" x="15"/><use href="#Q" x="16"/><use href="#I" x="17"/><use href="#A" x="18"/><use href="#Q" x="19"/><use href="#F" x="20"/><use href="#A" x="21"/><use href="#P" x="22"/><use href="#S" x="23"/><use href="#A" x="24"/><use href="#S" x="25"/><use href="#A" x="26"/><use href="#F" x="27"/><use href="#F" x="28"/><use href="#G" x="29"/><use href="#M" x="30"/><use href="#S" x="31"/><use href="#R" x="32"/><use href="#I" x="33"/><use href="#G" x="34"/><use href="#M" x="35"/><use href="#E" x="36"/><use href="#V" x="37"/><use href="#T" x="38"/><use href="#P" x="39"/><use href="#S" x="40"/><use href="#G" x="41"/><use href="#T" x="42"/><use href="#W" x="43"/><use href="#L" x="44"/><use href="#T" x="45"/><use href="#Y" x="46"/><use href="#T" x="47"/><use href="#G" x="48"/><use href="#A" x="49"/><use href="#I" x="50"/><use href="#K" x="51"/><use href="#L" x="52"/><use href="#D" x="53"/><use href="#D" x="54"/><use href="#K" x="55"/><use href="#D" x="56"/><use href="#P" x="57"/><use href="#N" x="58"/><use href="#F" x="59"/><use href="#K" x="60"/><use href="#D" x="61"/><use href="#Q" x="62"/><use href="#V" x="63"/><use href="#I" x="64"/><use href="#L" x="65"/><use href="#L" x="66"/><use href="#N" x="67"/><use href="#K" x="68"/><use href="#H" x="69"/><use href="#I" x="70"/><use href="#D" x="71"/><use href="#A" x="72"/><use href="#Y" x="73"/><use href="#K" x="74"/><use href="#T" x="75"/><use href="#F" x="76"/><use href="#P" x="77"/><use href="#P" x="78"/><use href="#T" x="79"/><use href="#E" x="80"/><use href="#P" x="81"/><use href="#K" x="82"/><use href="#K" x="83"/><use href="#D" x="84"/><use href="#K" x="85"/><use href="#K" x="86"/><use href="#K" x="87"/><use href="#K" x="88"/><use href="#A" x="89"/><use href="#D" transform="translate(90,-20) scale(1,.7)"/><use href="#gY" transform="translate(90,51) scale(1,.14)"/><use href="#E" x="91"/><use href="#T" x="92"/><use href="#Q" x="93"/><use href="#A" x="94"/><use href="#L" x="95"/><use href="#P" x="96"/><use href="#Q" x="97"/><use href="#R" x="98"/><use href="#Q" x="99"/><use href="#K" x="100"/><use href="#K" x="101"/><use href="#Q" x="102"/><use href="#Q" x="103"/><use href="#T" x="104"/><use href="#V" x="105"/><use href="#T" x="106"/><use href="#L" x="107"/><use href="#L" x="108"/><use href="#P" x="109"/><use href="#A" x="110"/><use href="#A" x="111"/><use href="#D" x="112"/><use href="#L" x="113"/><use href="#D" x="114"/><use href="#D" x="115"/><use href="#F" x="116"/><use href="#S" x="117"/><use href="#K" x="118"/><use href="#Q" x="119"/><use href="#L" x="120"/><use href="#Q" x="121"/><use href="#Q" x="122"/><use href="#S" x="123"/><use href="#M" x="124"/><use href="#S" x="125"/><use href="#S" x="126"/><use href="#A" x="127"/><use href="#D" x="128"/><use href="#S" x="129"/><use href="#T" x="130"/><use href="#Q" x="131"/><use href="#A" x="132"/>
</g>
<path class="rule" d="M335 1811.7H3943.3"/>
<text class="la" x="50" y="1311.6">Wuhan/1-419</text><text class="la" x="48" y="1351.7">α/1-419</text><text class="la" x="48" y="1391.8">β/1-419</text><text class="la" x="48" y="1431.9">γ/1-419</text><text class="la" x="48" y="1472">δ/1-419</text><text class="la" x="48" y="1512.1">σ/1-416</text>
<text class="nl" x="322" y="1311.6">287</text><text class="nl" x="322" y="1351.7">287</text><text class="nl" x="322" y="1391.8">287</text><text class="nl" x="322" y="1431.9">287</text><text class="nl" x="322" y="1472">287</text><text class="nl" x="322" y="1512.1">284</text>
<text class="nr" x="4230" y="1311.6">419</text><text class="nr" x="4230" y="1351.7">419</text><text class="nr" x="4230" y="1391.8">419</text><text class="nr" x="4230" y="1431.9">419</text><text class="nr" x="4230" y="1472">419</text><text class="nr" x="4230" y="1512.1">416</text>
<text class="cn" x="99" y="1691">Consensus</text>
</g>

</g>
</svg>
